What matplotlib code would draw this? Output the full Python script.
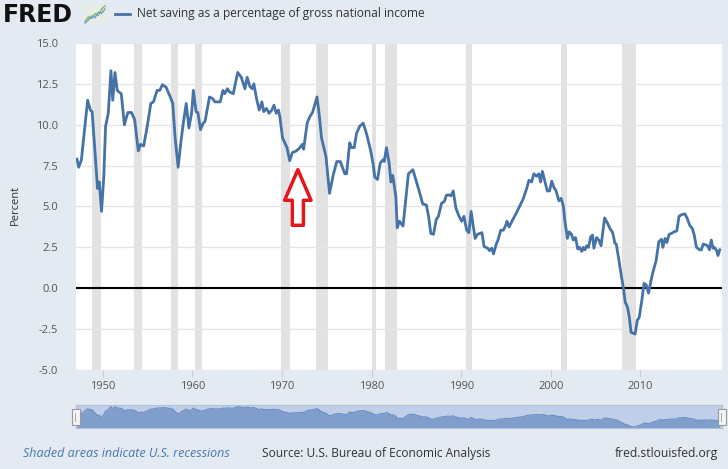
import matplotlib
matplotlib.use("Agg")
from matplotlib import pyplot as plt
from matplotlib.patches import Rectangle

# series (decimal year, percent)
years = [1947.1, 1947.3, 1947.6, 1948.0, 1948.3, 1948.6, 1948.8, 1949.1, 1949.4, 1949.6,
         1949.85, 1950.1, 1950.3, 1950.6, 1950.9, 1951.1, 1951.35, 1951.6, 1951.8, 1952.05,
         1952.4, 1952.6, 1952.8, 1953.2, 1953.55, 1953.95, 1954.2, 1954.55, 1954.95, 1955.35,
         1955.65, 1956.05, 1956.35, 1956.65, 1957.05, 1957.45, 1957.8, 1958.05, 1958.4, 1958.7,
         1958.95, 1959.3, 1959.6, 1959.9, 1960.1, 1960.4, 1960.6, 1960.9, 1961.2, 1961.4,
         1961.9, 1962.25, 1962.5, 1962.8, 1963.1, 1963.4, 1963.6, 1963.9, 1964.15, 1964.55,
         1965.05, 1965.45, 1965.85, 1966.1, 1966.4, 1966.65, 1966.85, 1967.15, 1967.45, 1967.75,
         1967.95, 1968.25, 1968.55, 1968.85, 1969.1, 1969.35, 1969.6, 1969.75, 1970.05, 1970.3,
         1970.55, 1970.85, 1971.15, 1971.6, 1972.0, 1972.25, 1972.4, 1972.8, 1973.1, 1973.4,
         1973.9, 1974.15, 1974.4, 1974.9, 1975.3, 1975.7, 1976.1, 1976.5, 1977.0, 1977.2,
         1977.55, 1977.75, 1978.05, 1978.3, 1978.65, 1979.05, 1979.45, 1979.85, 1980.15, 1980.35,
         1980.65, 1980.95, 1981.25, 1981.4, 1981.65, 1981.95, 1982.15, 1982.35, 1982.7, 1982.85,
         1983.1, 1983.5, 1984.1, 1984.6, 1984.95, 1985.3, 1985.7, 1986.1, 1986.35, 1986.6,
         1986.9, 1987.2, 1987.45, 1987.8, 1988.1, 1988.35, 1988.65, 1988.85, 1989.1, 1989.4,
         1989.75, 1990.05, 1990.3, 1990.6, 1990.85, 1991.1, 1991.35, 1991.55, 1991.8, 1992.3,
         1992.55, 1992.95, 1993.15, 1993.4, 1993.6, 1993.9, 1994.1, 1994.4, 1994.7, 1995.0,
         1995.1, 1995.35, 1995.7, 1996.1, 1996.55, 1996.9, 1997.3, 1997.55, 1997.85, 1998.1,
         1998.4, 1998.65, 1998.85, 1999.05, 1999.35, 1999.6, 1999.85, 2000.1, 2000.35, 2000.55,
         2000.9, 2001.15, 2001.4, 2001.55, 2001.85, 2002.05, 2002.3, 2002.5, 2002.75, 2003.0,
         2003.2, 2003.45, 2003.6, 2003.8, 2004.0, 2004.2, 2004.45, 2004.65, 2004.8, 2005.1,
         2005.35, 2005.6, 2006.0, 2006.3, 2006.6, 2006.9, 2007.15, 2007.3, 2007.6, 2007.85,
         2008.1, 2008.3, 2008.55, 2008.75, 2008.95, 2009.2, 2009.4, 2009.65, 2009.85, 2010.15,
         2010.4, 2010.65, 2010.9, 2011.15, 2011.4, 2011.75, 2012.05, 2012.35, 2012.5, 2012.75,
         2012.95, 2013.2, 2013.45, 2013.75, 2014.05, 2014.3, 2014.6, 2014.95, 2015.2, 2015.5,
         2015.8, 2016.0, 2016.25, 2016.6, 2016.8, 2017.0, 2017.3, 2017.5, 2017.7, 2017.9,
         2018.1, 2018.25, 2018.5, 2018.65, 2018.85]
saving = [7.9, 7.4, 7.85, 9.9, 11.5, 10.9, 10.8, 8.5, 6.1, 6.5,
          4.7, 6.8, 9.9, 10.7, 13.3, 11.5, 13.2, 12.1, 12.0, 11.9,
          10.0, 10.4, 10.75, 10.75, 10.3, 8.4, 8.8, 8.7, 9.9, 11.3,
          11.4, 12.1, 12.1, 12.45, 12.3, 11.8, 11.3, 9.3, 7.4, 8.9,
          10.0, 11.3, 9.8, 10.7, 12.1, 10.8, 10.75, 9.7, 10.1, 10.2,
          11.7, 11.6, 11.4, 11.4, 11.4, 12.1, 11.9, 12.2, 12.0, 11.9,
          13.2, 12.9, 12.2, 12.9, 12.35, 12.2, 12.5, 11.6, 10.9, 11.4,
          10.8, 11.0, 10.7, 10.9, 11.2, 10.7, 10.9, 10.5, 9.2, 8.9,
          8.6, 7.8, 8.3, 8.4, 8.6, 8.8, 8.5, 10.1, 10.5, 10.75,
          11.7, 10.6, 9.2, 8.05, 5.8, 6.9, 7.75, 7.75, 7.0, 7.0,
          8.9, 8.6, 8.6, 9.45, 9.9, 10.1, 9.4, 8.5, 7.65, 6.8,
          6.65, 7.65, 7.85, 7.75, 8.6, 7.65, 6.5, 6.9, 5.6, 3.7,
          4.1, 3.8, 7.0, 7.25, 6.6, 5.95, 5.15, 5.1, 4.4, 3.35,
          3.3, 4.2, 4.4, 5.2, 5.3, 5.7, 5.7, 5.65, 5.95, 4.9,
          4.4, 4.1, 4.4, 3.55, 3.4, 4.7, 3.75, 3.05, 3.3, 3.4,
          2.55, 2.45, 2.3, 2.45, 2.1, 2.7, 2.95, 3.55, 3.55, 3.9,
          4.1, 3.75, 4.15, 4.55, 5.05, 5.45, 6.1, 6.6, 6.5, 7.0,
          6.85, 7.0, 6.5, 7.15, 6.5, 5.95, 5.95, 6.55, 6.15, 6.0,
          5.35, 5.5, 5.0, 4.15, 3.05, 3.45, 3.3, 2.95, 3.1, 2.4,
          2.5, 2.25, 2.5, 2.35, 2.6, 2.5, 3.15, 3.25, 2.45, 3.1,
          2.95, 2.6, 4.3, 4.0, 3.65, 3.4, 2.75, 2.7, 1.7, 0.8,
          0.0, -0.85, -1.15, -1.75, -2.7, -2.75, -2.8, -1.95, -1.8, -0.75,
          0.3, 0.2, -0.3, 0.4, 1.0, 1.7, 2.85, 3.0, 2.5, 3.05,
          2.8, 3.3, 3.35, 3.45, 3.5, 4.4, 4.5, 4.55, 4.3, 3.85,
          3.65, 3.25, 2.5, 2.35, 2.35, 2.7, 2.65, 2.6, 2.35, 2.95,
          2.45, 2.5, 2.3, 2.0, 2.35]

# NBER recessions (start, end)
rec_start = [1948.83, 1953.5, 1957.58, 1960.25, 1969.92, 1973.83, 1980.0, 1981.5, 1990.5, 2001.17, 2007.92]
rec_end = [1949.83, 1954.33, 1958.33, 1961.08, 1970.83, 1975.17, 1980.5, 1982.83, 1991.17, 2001.83, 2009.5]

y_ticks = [-5.0, -2.5, 0.0, 2.5, 5.0, 7.5, 10.0, 12.5, 15.0]
x_ticks = [1950, 1960, 1970, 1980, 1990, 2000, 2010]

# little FRED icon lines
icon_x = [0, 1, 2, 3, 4, 5, 6]
icon_green = [1, 2.5, 2, 3.5, 3, 5, 6]
icon_blue = [0.5, 1.5, 2.8, 2.2, 4, 3.6, 5]

BG = '#e3eaf1'
BLUE = '#4572a7'
W, H = 728, 469

plt.rcParams['font.family'] = ['Open Sans', 'DejaVu Sans']

fig = plt.figure(figsize=(W / 100, H / 100), dpi=100, facecolor=BG)

ax = fig.add_axes([76 / W, 1 - 370 / H, 646 / W, 327 / H])
ax.set_facecolor('white')
for s, e in zip(rec_start, rec_end):
    ax.axvspan(s, e, color='#e2e2e2', lw=0, zorder=0)
for t in y_ticks:
    ax.axhline(t, color='#e6e6e6', lw=1, zorder=0.5)
ax.axhline(0, color='black', lw=1.5, zorder=1)
ax.plot(years, saving, color=BLUE, lw=2, zorder=3)
ax.set_xlim(1947.0, 2019.1)
ax.set_ylim(-5, 15)
ax.set_yticks(y_ticks)
ax.set_yticklabels(['%.1f' % t for t in y_ticks])
ax.set_xticks(x_ticks)
for sp in ax.spines.values():
    sp.set_visible(False)
ax.tick_params(axis='y', length=0, pad=13, labelsize=8, labelcolor='#555555')
ax.tick_params(axis='x', length=5, width=0.8, color='#cccccc', pad=3,
               labelsize=8, labelcolor='#555555')

# red hollow arrow
ax.annotate('', xy=(1971.76, 7.25), xytext=(1971.76, 3.85),
            arrowprops=dict(arrowstyle='simple,head_width=0.95,head_length=1.1,tail_width=0.4',
                            mutation_scale=20, fc='white', ec='#e3161b', lw=2.5,
                            shrinkA=0, shrinkB=0), zorder=5)

fig.text(15 / W, 1 - 205 / H, 'Percent', rotation=90, ha='center', va='center',
         fontsize=8, color='#333333')

# navigator
nav = fig.add_axes([76 / W, 1 - 428 / H, 646 / W, 23 / H])
nav.set_facecolor('#bfcfe7')
nav.fill_between(years, saving, -10, color='#7f9ecc', lw=0)
nav.plot(years, saving, color='#6a8cc4', lw=0.8)
nav.set_xlim(1947.0, 2019.1)
nav.set_ylim(-3.6, 14.5)
nav.set_xticks([])
nav.set_yticks([])
for sp in nav.spines.values():
    sp.set_color('#b0c0d8')
for hx in (76, 722):
    fig.patches.append(Rectangle(((hx - 4) / W, 1 - 425 / H), 8 / W, 16 / H,
                                 transform=fig.transFigure, fc='#f4f4f4',
                                 ec='#999999', lw=0.8, zorder=10))
    fig.lines.append(plt.Line2D([(hx - 1) / W, (hx - 1) / W], [1 - 421 / H, 1 - 413 / H],
                                transform=fig.transFigure, color='#999999', lw=0.6, zorder=11))

# header
fig.text(3 / W, 1 - 15 / H, 'FRED', fontsize=17, fontweight='heavy',
         family='DejaVu Sans', color='#111111', va='center', ha='left')
icon = fig.add_axes([84 / W, 1 - 24 / H, 22 / W, 19 / H])
icon.set_facecolor('#e7ece4')
icon.plot(icon_x, icon_green, color='#7dbb5a', lw=1)
icon.plot(icon_x, icon_blue, color='#6b9bd1', lw=1)
icon.set_xticks([])
icon.set_yticks([])
for sp in icon.spines.values():
    sp.set_visible(False)
fig.lines.append(plt.Line2D([115 / W, 130 / W], [1 - 14 / H, 1 - 14 / H],
                            transform=fig.transFigure, color=BLUE, lw=2))
fig.text(137 / W, 1 - 14 / H, 'Net saving as a percentage of gross national income',
         fontsize=8.6, color='#333333', va='center', ha='left')

# footer
fig.text(23 / W, 1 - 453 / H, 'Shaded areas indicate U.S. recessions', fontsize=9,
         style='italic', color='#4a76b0', va='center', ha='left')
fig.text(262 / W, 1 - 453 / H, 'Source: U.S. Bureau of Economic Analysis', fontsize=8.6,
         color='#333333', va='center', ha='left')
fig.text(718 / W, 1 - 453 / H, 'fred.stlouisfed.org', fontsize=8.7,
         color='#333333', va='center', ha='right')

fig.savefig('out.png', dpi=100, facecolor=BG)
